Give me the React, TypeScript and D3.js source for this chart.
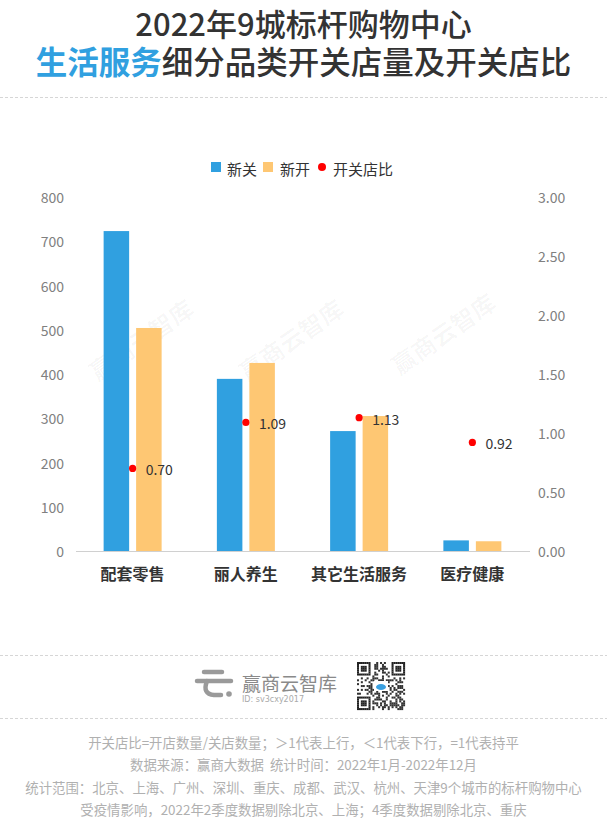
import React from "react";
import * as d3 from "d3";

const categories = ["配套零售", "丽人养生", "其它生活服务", "医疗健康"];
const seriesNames = ["新关", "新开"];
const closedValues = [723, 389, 271, 24];
const openedValues = [504, 425, 305, 22];
const ratioValues = [0.7, 1.09, 1.13, 0.92];
const leftTicks = [0, 100, 200, 300, 400, 500, 600, 700, 800];
const rightTicks = [0, 0.5, 1, 1.5, 2, 2.5, 3];
const footerLines = [
  "开关店比=开店数量/关店数量；＞1代表上行，＜1代表下行，=1代表持平",
  "数据来源：赢商大数据  统计时间：2022年1月-2022年12月",
  "统计范围：北京、上海、广州、深圳、重庆、成都、武汉、杭州、天津9个城市的标杆购物中心",
  "受疫情影响，2022年2季度数据剔除北京、上海；4季度数据剔除北京、重庆",
];

const W = 607;
const H = 833;
const BLUE = "#30a0e0";
const YELLOW = "#fec773";
const RED = "#ff0000";
const FONT = "'Noto Sans CJK SC', 'Noto Sans', sans-serif";

function QR({ x, y, s }: { x: number; y: number; s: number }) {
  const n = 25;
  const m = s / n;
  const cells: JSX.Element[] = [];
  const finder = (fx: number, fy: number) => {
    for (let i = 0; i < 7; i++)
      for (let j = 0; j < 7; j++) {
        const on =
          i === 0 || i === 6 || j === 0 || j === 6 || (i >= 2 && i <= 4 && j >= 2 && j <= 4);
        if (on)
          cells.push(
            <rect key={`f${fx}-${fy}-${i}-${j}`} x={x + (fx + i) * m} y={y + (fy + j) * m} width={m + 0.1} height={m + 0.1} fill="#222" />
          );
      }
  };
  finder(0, 0);
  finder(n - 7, 0);
  finder(0, n - 7);
  for (let i = 0; i < n; i++)
    for (let j = 0; j < n; j++) {
      const inF = (i < 8 && j < 8) || (i >= n - 8 && j < 8) || (i < 8 && j >= n - 8);
      if (inF) continue;
      const h = ((i * 73856093) ^ (j * 19349663) ^ (i * j * 83492791)) >>> 0;
      if (h % 7 < 3)
        cells.push(<rect key={`c${i}-${j}`} x={x + i * m} y={y + j * m} width={m + 0.1} height={m + 0.1} fill="#333" />);
    }
  return (
    <g>
      {cells}
      <rect x={x + s / 2 - 7} y={y + s / 2 - 5} width={14} height={10} fill="#fff" />
      <ellipse cx={x + s / 2} cy={y + s / 2 + 1} rx={5} ry={3} fill="#3aa0e0" />
    </g>
  );
}

export default function App() {
  const x = d3.scaleBand<string>().domain(categories).range([76, 529]);
  const sub = d3
    .scaleBand<string>()
    .domain(seriesNames)
    .range([-29, 29])
    .paddingInner(0.215);
  const yL = d3.scaleLinear().domain([0, 800]).range([551, 197]);
  const yR = d3.scaleLinear().domain([0, 3]).range([551, 197]);
  const fmtR = d3.format(".2f");
  const cx = (c: string) => (x(c) as number) + x.bandwidth() / 2;

  const wmPositions = [
    [143, 342],
    [293, 342],
    [445, 336],
  ];

  return (
    <div style={{ position: "absolute", left: 0, top: 0, width: W, height: H, background: "#fff" }}>
      <svg width={W} height={H} style={{ display: "block", fontFamily: FONT }}>
        <rect width={W} height={H} fill="#fff" />
        {/* Title */}
        <text x={W / 2} y={35.5} textAnchor="middle" fontSize={31} fontWeight={500} fill="#333">
          2022年9城标杆购物中心
        </text>
        <text x={W / 2} y={73.5} textAnchor="middle" fontSize={31.5} fontWeight={500} fill="#333">
          <tspan fill={BLUE} fontWeight={700}>生活服务</tspan>
          <tspan>细分品类开关店量及开关店比</tspan>
        </text>
        <line x1={0} x2={W} y1={97.5} y2={97.5} stroke="#d6d6d6" strokeDasharray="3,2" />

        {/* Watermarks */}
        {wmPositions.map(([wx, wy], i) => (
          <text
            key={i}
            x={wx}
            y={wy}
            transform={`rotate(-35 ${wx} ${wy})`}
            textAnchor="middle"
            dominantBaseline="middle"
            fontSize={24}
            fontWeight={700}
            fill="#000"
            fillOpacity={0.035}
          >
            赢商云智库
          </text>
        ))}

        {/* Legend */}
        <g fontSize={15} fill="#333">
          <rect x={211} y={162} width={10} height={10} fill={BLUE} />
          <text x={227} y={168} dominantBaseline="central">新关</text>
          <rect x={263} y={162} width={10} height={10} fill={YELLOW} />
          <text x={280} y={168} dominantBaseline="central">新开</text>
          <circle cx={322} cy={167} r={4} fill={RED} />
          <text x={333} y={168} dominantBaseline="central">开关店比</text>
        </g>

        {/* Left axis labels */}
        <g fontSize={14} fill="#808080" textAnchor="end">
          {leftTicks.map((t) => (
            <text key={t} x={64} y={yL(t)} dominantBaseline="central">
              {t}
            </text>
          ))}
        </g>
        {/* Right axis labels */}
        <g fontSize={14} fill="#808080" textAnchor="start">
          {rightTicks.map((t) => (
            <text key={t} x={538} y={yR(t)} dominantBaseline="central">
              {fmtR(t)}
            </text>
          ))}
        </g>

        {/* Bars */}
        {categories.map((c, i) => (
          <g key={c}>
            <rect
              x={cx(c) + (sub("新关") as number)}
              y={yL(closedValues[i])}
              width={sub.bandwidth()}
              height={yL(0) - yL(closedValues[i])}
              fill={BLUE}
            />
            <rect
              x={cx(c) + (sub("新开") as number)}
              y={yL(openedValues[i])}
              width={sub.bandwidth()}
              height={yL(0) - yL(openedValues[i])}
              fill={YELLOW}
            />
          </g>
        ))}

        <line x1={76} x2={530} y1={551.5} y2={551.5} stroke="#d0d0d0" />

        {/* Ratio dots */}
        {categories.map((c, i) => (
          <g key={c + "r"}>
            <circle cx={cx(c)} cy={yR(ratioValues[i])} r={3.6} fill={RED} />
            <text x={cx(c) + 13} y={yR(ratioValues[i]) + 1} dominantBaseline="central" fontSize={14} fill="#333">
              {fmtR(ratioValues[i])}
            </text>
          </g>
        ))}

        {/* Category labels */}
        {categories.map((c) => (
          <text key={c + "l"} x={cx(c)} y={573} textAnchor="middle" dominantBaseline="central" fontSize={16} fontWeight={700} fill="#333">
            {c}
          </text>
        ))}

        {/* Bottom brand */}
        <line x1={0} x2={W} y1={655.5} y2={655.5} stroke="#d6d6d6" strokeDasharray="3,2" />
        <line x1={0} x2={W} y1={718.5} y2={718.5} stroke="#d6d6d6" strokeDasharray="3,2" />
        <g stroke="#9a9a9a" strokeWidth={4.5} fill="none" strokeLinecap="round">
          <line x1={204} y1={672} x2={222} y2={672} />
          <path d="M197 681 L231 681" />
          <path d="M207 681 Q202 694 214 695 L221 695" />
        </g>
        <circle cx={229} cy={694} r={2.8} fill="#9a9a9a" />
        <text x={242} y={682} dominantBaseline="central" fontSize={19} fill="#8a8a8a">
          赢商云智库
        </text>
        <text x={242} y={699} dominantBaseline="central" fontSize={8} fill="#aaa" fontFamily="'DejaVu Sans', sans-serif">
          ID: sv3cxy2017
        </text>
        <QR x={357} y={662} s={48} />

        {/* Footer */}
        <g fontSize={13.4} fill="#b0b0b0" textAnchor="middle">
          {footerLines.map((l, i) => (
            <text key={i} x={W / 2} y={742 + i * 22.3} dominantBaseline="central" style={{ whiteSpace: "pre" }}>
              {l}
            </text>
          ))}
        </g>
      </svg>
    </div>
  );
}
